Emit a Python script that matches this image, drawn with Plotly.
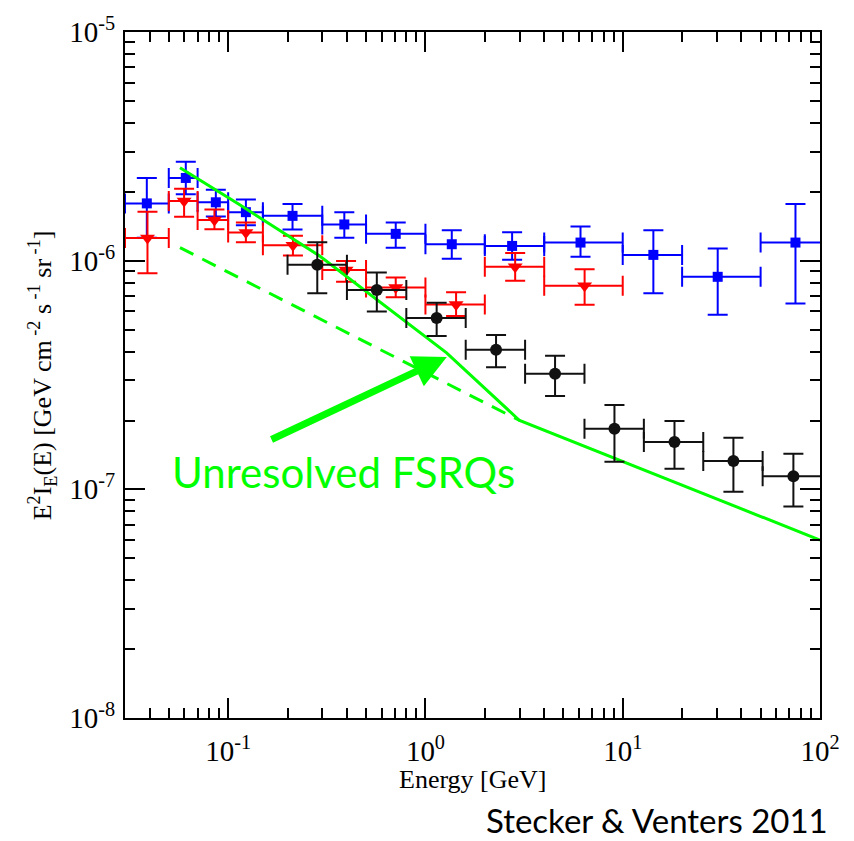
import numpy as np
import plotly.graph_objects as go

# ---- EGRET extragalactic background (blue squares) ----
egret_e = [0.0387, 0.061, 0.0866, 0.123, 0.212, 0.388, 0.707, 1.36, 2.75, 6.11, 14.3, 30.3, 75.1]
egret_elo = [0.03, 0.05, 0.07, 0.10, 0.15, 0.30, 0.50, 1.0, 2.0, 4.0, 10.0, 20.0, 50.0]
egret_ehi = [0.05, 0.07, 0.10, 0.15, 0.30, 0.50, 1.0, 2.0, 4.0, 10.0, 20.0, 50.0, 120.0]
egret_f = [1.78e-6, 2.30e-6, 1.80e-6, 1.63e-6, 1.57e-6, 1.44e-6, 1.31e-6, 1.18e-6, 1.16e-6, 1.20e-6, 1.06e-6, 8.5e-7, 1.20e-6]
egret_fhi = [2.30e-6, 2.71e-6, 2.04e-6, 1.85e-6, 1.77e-6, 1.63e-6, 1.47e-6, 1.36e-6, 1.33e-6, 1.41e-6, 1.36e-6, 1.13e-6, 1.77e-6]
egret_flo = [1.26e-6, 1.95e-6, 1.56e-6, 1.43e-6, 1.37e-6, 1.26e-6, 1.14e-6, 1.02e-6, 1.01e-6, 1.04e-6, 7.2e-7, 5.8e-7, 6.5e-7]

# ---- EGRET re-analysis (red triangles) ----
strong_e = [0.039, 0.0598, 0.0852, 0.123, 0.213, 0.396, 0.707, 1.43, 2.85, 6.41]
strong_elo = [0.03, 0.05, 0.07, 0.10, 0.15, 0.30, 0.50, 1.0, 2.0, 4.0]
strong_ehi = [0.05, 0.07, 0.10, 0.15, 0.30, 0.50, 1.0, 2.0, 4.0, 10.0]
strong_f = [1.255e-6, 1.825e-6, 1.507e-6, 1.328e-6, 1.167e-6, 9.11e-7, 7.64e-7, 6.43e-7, 9.41e-7, 7.77e-7]
strong_fhi = [1.636e-6, 2.065e-6, 1.674e-6, 1.467e-6, 1.285e-6, 9.96e-7, 8.44e-7, 7.27e-7, 1.081e-6, 9.17e-7]
strong_flo = [8.81e-7, 1.557e-6, 1.373e-6, 1.203e-6, 1.054e-6, 8.09e-7, 6.92e-7, 5.73e-7, 8.17e-7, 6.41e-7]

# ---- Fermi-LAT extragalactic background (black circles) ----
fermi_e = [0.283, 0.567, 1.14, 2.28, 4.54, 9.08, 18.3, 36.4, 73.3]
fermi_elo = [0.2, 0.4, 0.8, 1.6, 3.2, 6.4, 12.8, 25.6, 51.2]
fermi_ehi = [0.4, 0.8, 1.6, 3.2, 6.4, 12.8, 25.6, 51.2, 102.4]
fermi_f = [9.60e-7, 7.44e-7, 5.62e-7, 4.08e-7, 3.20e-7, 1.84e-7, 1.61e-7, 1.33e-7, 1.14e-7]
fermi_fhi = [1.203e-6, 8.87e-7, 6.54e-7, 4.73e-7, 3.84e-7, 2.34e-7, 1.99e-7, 1.68e-7, 1.43e-7]
fermi_flo = [7.20e-7, 6.00e-7, 4.68e-7, 3.42e-7, 2.56e-7, 1.32e-7, 1.23e-7, 9.76e-8, 8.41e-8]

# ---- Unresolved FSRQ model curves ----
fsrq_e = [0.057, 0.115, 0.29, 0.59, 1.28, 3.0, 100.0]
fsrq_f = [2.55e-6, 1.75e-6, 1.05e-6, 6.6e-7, 3.95e-7, 2.0e-7, 6.0e-8]
fsrq_alt_e = [0.057, 3.0]
fsrq_alt_f = [1.14e-6, 2.0e-7]

# arrow pointing at the model curves (tail -> tip), in data units
arrow_tail = (0.163, 1.64e-7)
arrow_tip = (1.284, 3.79e-7)

# axis ticks
x_major = [0.1, 1, 10, 100]
x_major_text = ["10<sup>-1</sup>", "10<sup>0</sup>", "10<sup>1</sup>", "10<sup>2</sup>"]
y_major = [1e-8, 1e-7, 1e-6, 1e-5]
y_major_text = ["10<sup>-8</sup>", "10<sup>-7</sup>", "10<sup>-6</sup>", "10<sup>-5</sup>"]
x_minor = [k * 10.0 ** d for d in (-2, -1, 0, 1) for k in range(2, 10) if k * 10.0 ** d >= 0.03]
y_minor = [k * 10.0 ** d for d in (-8, -7, -6) for k in range(2, 10)]


def errs(center, lo, hi):
    c = np.array(center)
    return dict(type="data", symmetric=False,
                array=(np.array(hi) - c).tolist(),
                arrayminus=(c - np.array(lo)).tolist())


def data_trace(e, elo, ehi, f, flo, fhi, color, symbol, size):
    ex = errs(e, elo, ehi)
    ey = errs(f, flo, fhi)
    ex.update(color=color, thickness=2, width=10)
    ey.update(color=color, thickness=2, width=10)
    return go.Scatter(x=e, y=f, mode="markers",
                      marker=dict(color=color, symbol=symbol, size=size, line=dict(width=0)),
                      error_x=ex, error_y=ey, showlegend=False)


GREEN = "#00ff00"
serif = "Liberation Serif, Times New Roman, serif"

fig = go.Figure()
fig.add_trace(data_trace(egret_e, egret_elo, egret_ehi, egret_f, egret_flo, egret_fhi,
                         "#0000ff", "square", 10))
fig.add_trace(data_trace(strong_e, strong_elo, strong_ehi, strong_f, strong_flo, strong_fhi,
                         "#ff0000", "triangle-down", 13))
fig.add_trace(go.Scatter(x=fsrq_e, y=fsrq_f, mode="lines",
                         line=dict(color=GREEN, width=3), showlegend=False))
fig.add_trace(go.Scatter(x=fsrq_alt_e, y=fsrq_alt_f, mode="lines",
                         line=dict(color=GREEN, width=3, dash="15px,10px"), showlegend=False))
fig.add_trace(data_trace(fermi_e, fermi_elo, fermi_ehi, fermi_f, fermi_flo, fermi_fhi,
                         "#111111", "circle", 12))

axis_common = dict(
    type="log", showgrid=False, zeroline=False,
    showline=True, linewidth=2, linecolor="black", mirror="allticks",
    ticks="inside", ticklen=20, tickwidth=2, tickcolor="black",
    tickmode="array",
    tickfont=dict(family=serif, size=29, color="black"),
)

fig.update_xaxes(**axis_common, range=[np.log10(0.03), 2.0],
                 tickvals=x_major, ticktext=x_major_text, ticklabelstandoff=6,
                 minor=dict(tickmode="array", tickvals=x_minor, ticks="inside",
                            ticklen=10, tickwidth=2, tickcolor="black", showgrid=False))
fig.update_yaxes(**axis_common, range=[-8, -5],
                 tickvals=y_major, ticktext=y_major_text, ticklabelstandoff=2,
                 minor=dict(tickmode="array", tickvals=y_minor, ticks="inside",
                            ticklen=10, tickwidth=2, tickcolor="black", showgrid=False))

fig.add_annotation(x=np.log10(arrow_tip[0]), y=np.log10(arrow_tip[1]),
                   ax=np.log10(arrow_tail[0]), ay=np.log10(arrow_tail[1]),
                   xref="x", yref="y", axref="x", ayref="y",
                   text="", showarrow=True, arrowhead=2, arrowsize=0.95,
                   arrowwidth=7, arrowcolor=GREEN, standoff=0)

fig.add_annotation(x=0.3137, y=0.358, xref="paper", yref="paper",
                   text="Unresolved FSRQs", showarrow=False,
                   xanchor="center", yanchor="middle",
                   font=dict(family="Lato, sans-serif", size=42, color=GREEN))

fig.add_annotation(x=0.5, y=-0.089, xref="paper", yref="paper",
                   text="Energy [GeV]", showarrow=False,
                   xanchor="center", yanchor="middle",
                   font=dict(family=serif, size=26, color="black"))

fig.add_annotation(x=-0.119, y=0.5, xref="paper", yref="paper",
                   text="E<sup>2</sup>I<sub>E</sub>(E) [GeV cm<sup> -2</sup> s<sup> -1</sup> sr<sup> -1</sup>]",
                   showarrow=False, textangle=-90,
                   xanchor="center", yanchor="middle",
                   font=dict(family=serif, size=26, color="black"))

fig.add_annotation(x=1.0144, y=-0.148, xref="paper", yref="paper",
                   text="Stecker & Venters 2011", showarrow=False,
                   xanchor="right", yanchor="middle",
                   font=dict(family="Lato, sans-serif", size=33, color="black"))

fig.update_layout(width=854, height=841,
                  margin=dict(l=125, r=34, t=23, b=123),
                  paper_bgcolor="white", plot_bgcolor="white",
                  showlegend=False)

fig.write_html("out.html")
